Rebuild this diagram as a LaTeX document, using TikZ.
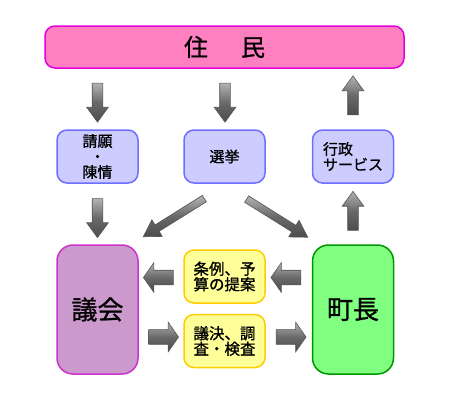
\documentclass[tikz,border=0pt]{standalone}
\usepackage{fontspec}
\setmainfont{Noto Sans CJK JP}[AutoFakeBold=1]
\usetikzlibrary{shapes.arrows}
\definecolor{pinkF}{RGB}{255,128,192}
\definecolor{pinkD}{RGB}{230,0,220}
\definecolor{lavF}{RGB}{204,204,255}
\definecolor{lavD}{RGB}{110,110,255}
\definecolor{plumF}{RGB}{204,153,204}
\definecolor{plumD}{RGB}{204,51,204}
\definecolor{grnF}{RGB}{128,255,128}
\definecolor{grnD}{RGB}{0,150,0}
\definecolor{ylwF}{RGB}{255,255,153}
\definecolor{ylwD}{RGB}{255,204,0}
\definecolor{arrF}{RGB}{105,105,105}
\definecolor{arrD}{RGB}{85,85,85}
\begin{document}
\begin{tikzpicture}[x=1pt,y=-1pt,
  box/.style={draw, line width=1.5pt, rounded corners=10pt, inner sep=0pt, align=center},
  small/.style={box, draw=lavD, fill=lavF, minimum width=81pt, minimum height=53pt, font=\fontsize{15}{15.5}\selectfont\bfseries},
  big/.style={box, rounded corners=16pt, minimum width=81pt, minimum height=129pt, font=\fontsize{26}{28}\selectfont\bfseries},
  yel/.style={box, draw=ylwD, fill=ylwF, minimum width=81pt, minimum height=53pt, font=\fontsize{15.5}{15.5}\selectfont\bfseries},
  barrow/.style={single arrow, draw=arrD, line width=0.6pt, top color=gray!60, bottom color=black!70, middle color=arrF, inner xsep=0pt},
  varrow/.style={barrow, minimum height=39pt, inner ysep=5pt, single arrow head extend=5.5pt, single arrow tip angle=72},
  harrow/.style={barrow, minimum height=30pt, inner ysep=7pt, single arrow head extend=7.5pt, single arrow tip angle=110},
  darrow/.style={barrow, minimum height=72pt, inner ysep=3.5pt, single arrow head extend=6pt, single arrow tip angle=62}]
\useasboundingbox (0,0) rectangle (450,400);
% boxes
\node[box, draw=pinkD, fill=pinkF, minimum width=359pt, minimum height=42pt, font=\fontsize{24}{26}\selectfont\bfseries] (jumin) at (224.5,47) {住\hspace{33pt}民};
\node[small] (seigan) at (97.5,156.5) {請願\\・\\陳情};
\node[small] (senkyo) at (224.5,156.5) {選挙};
\node[small, align=left] (gyosei) at (353,156.5) {行政\\サービス};
\node[big, draw=plumD, fill=plumF] (gikai) at (97.5,309.5) {議会};
\node[big, draw=grnD, fill=grnF] (chocho) at (353,309.5) {町長};
\node[yel, align=left] (jorei) at (224.5,276.5) {条例、予\\算の提案};
\node[yel, align=left] (giketsu) at (224.5,341) {議決、調\\査・検査};
% arrows
\node[varrow, rotate=-90] (a1) at (97.5,99) {};
\node[varrow, rotate=-90] (a2) at (225,99) {};
\node[varrow, rotate=90] (a3) at (353,99) {};
\node[varrow, rotate=-90] (a4) at (97.5,214.5) {};
\node[varrow, rotate=90] (a5) at (353,214.5) {};
\node[darrow, rotate=212] (a6) at (176.5,216) {};
\node[darrow, rotate=-32] (a7) at (274.5,216.5) {};
\node[harrow, rotate=180] (a8) at (161,277.5) {};
\node[harrow, rotate=180] (a9) at (288.5,277.5) {};
\node[harrow] (a10) at (161,337) {};
\node[harrow] (a11) at (288.5,337) {};
\end{tikzpicture}
\end{document}
